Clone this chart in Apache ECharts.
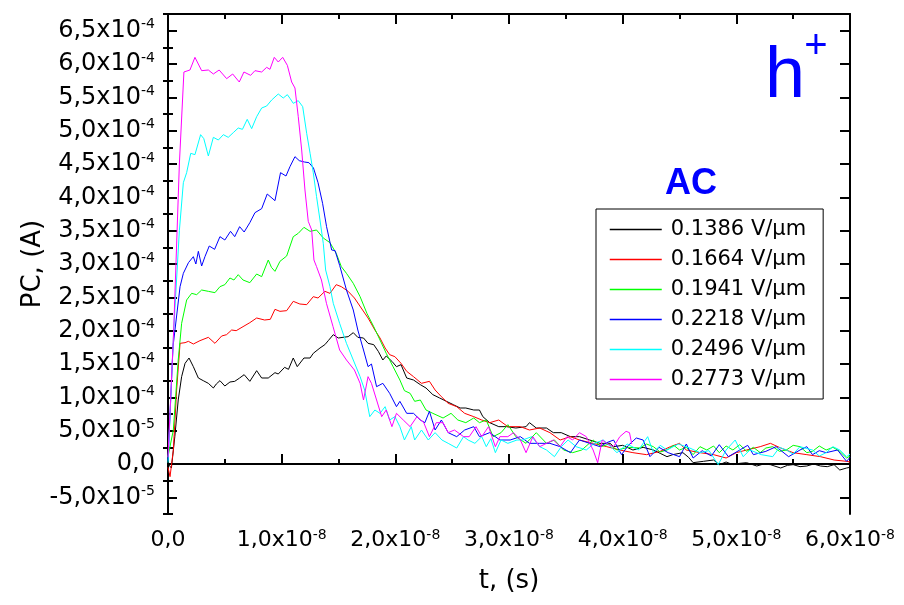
<!DOCTYPE html>
<html>
<head>
<meta charset="utf-8">
<script src="https://cdn.jsdelivr.net/npm/echarts@6/dist/echarts.min.js"></script>
<style>
html,body{margin:0;padding:0;background:#fff;}
#chart{width:904px;height:605px;}
</style>
</head>
<body>
<div id="chart"></div>
<script>
// time in ns (1 ns = 1e-9 s), current in units of 1e-4 A
const seriesNames = ['0.1386 V/\u00b5m','0.1664 V/\u00b5m','0.1941 V/\u00b5m','0.2218 V/\u00b5m','0.2496 V/\u00b5m','0.2773 V/\u00b5m'];
const seriesColors = ['#000000','#ff0000','#00ff00','#0000ff','#00ffff','#ff00ff'];

const e1386 = [[0,0.0],[0.3,-0.06],[0.6,0.41],[0.9,0.96],[1.2,1.31],[1.5,1.51],[1.85,1.59],[2.23,1.46],[2.67,1.29],[3.1,1.25],[3.55,1.21],[3.99,1.14],[4.25,1.2],[4.57,1.25],[5.0,1.17],[5.45,1.23],[5.87,1.24],[6.3,1.29],[6.7,1.34],[7.2,1.24],[7.8,1.40],[8.24,1.29],[8.82,1.29],[9.41,1.37],[9.7,1.35],[10.26,1.45],[10.6,1.42],[11.02,1.59],[11.37,1.46],[11.96,1.59],[12.5,1.59],[12.78,1.66],[13.37,1.74],[13.8,1.79],[14.1,1.85],[14.54,1.94],[14.98,1.89],[15.4,1.90],[15.85,1.91],[16.3,1.97],[16.7,1.90],[17.2,1.89],[17.6,1.81],[18.1,1.79],[18.5,1.69],[18.9,1.56],[19.2,1.62],[19.7,1.54],[20.1,1.46],[20.5,1.49],[21.0,1.29],[21.6,1.26],[22.2,1.19],[22.7,1.14],[23.3,1.04],[23.9,0.99],[24.5,0.94],[25.1,0.89],[25.7,0.84],[26.2,0.84],[26.9,0.81],[27.4,0.81],[27.7,0.71],[28.3,0.62],[29.1,0.56],[29.8,0.56],[30.6,0.54],[31.5,0.56],[31.8,0.62],[32.4,0.54],[33.3,0.54],[33.9,0.47],[34.6,0.47],[35.4,0.41],[36.2,0.41],[37.1,0.36],[38.0,0.31],[38.9,0.31],[39.2,0.26],[40.0,0.28],[40.9,0.21],[41.8,0.25],[42.7,0.21],[43.3,0.16],[43.9,0.11],[44.4,0.14],[45.3,0.17],[45.8,0.1],[46.2,0.02],[47.1,0.04],[48.0,0.06],[48.5,-0.01],[49.1,0.03],[49.7,-0.01],[50.3,0.01],[50.9,0.02],[51.8,-0.03],[52.4,0.0],[53.0,-0.01],[53.9,-0.06],[54.5,-0.02],[55.0,-0.01],[55.6,-0.04],[56.2,-0.03],[56.8,0.0],[57.4,-0.03],[58.0,-0.04],[58.6,-0.01],[59.1,-0.09],[59.7,-0.06],[60,-0.05]];

const e1664 = [[0,-0.05],[0.18,-0.19],[0.47,0.21],[0.76,1.11],[1.06,1.81],[1.5,1.82],[1.79,1.84],[2.23,1.80],[2.81,1.85],[3.55,1.90],[4.13,1.81],[4.72,1.92],[5.15,1.94],[5.6,2.01],[6.0,2.0],[6.6,2.06],[7.2,2.12],[7.8,2.19],[8.5,2.16],[9.0,2.17],[9.41,2.32],[9.85,2.29],[10.44,2.30],[11.02,2.44],[11.6,2.40],[12.2,2.39],[12.78,2.51],[13.2,2.49],[13.8,2.59],[14.25,2.56],[14.8,2.69],[15.25,2.66],[15.85,2.59],[16.4,2.49],[17.0,2.34],[17.6,2.19],[18.2,2.01],[18.65,1.89],[19.1,1.74],[19.5,1.64],[19.96,1.61],[20.5,1.51],[21.0,1.39],[21.6,1.31],[22.3,1.21],[23.0,1.24],[23.5,1.11],[24.05,1.01],[24.65,0.91],[25.4,0.86],[26.1,0.76],[26.9,0.71],[27.6,0.66],[28.3,0.62],[29.1,0.66],[29.9,0.56],[31.0,0.56],[31.8,0.51],[32.7,0.54],[33.6,0.47],[34.5,0.36],[35.4,0.41],[36.2,0.36],[37.4,0.31],[38.6,0.26],[39.75,0.21],[40.9,0.17],[42.1,0.14],[43.3,0.19],[44.2,0.26],[45.0,0.31],[45.6,0.21],[46.8,0.17],[48.0,0.14],[49.1,0.09],[50.0,0.17],[50.9,0.21],[52.1,0.26],[53.0,0.31],[53.9,0.24],[55.0,0.17],[56.2,0.14],[57.4,0.11],[58.6,0.06],[59.7,0.04],[60,0.03]];

const e1941 = [[0,0.11],[0.47,0.51],[0.9,1.56],[1.2,2.11],[1.64,2.46],[2.08,2.56],[2.52,2.54],[2.96,2.61],[3.55,2.59],[4.13,2.57],[4.57,2.66],[5.0,2.69],[5.45,2.79],[5.8,2.76],[6.18,2.84],[6.6,2.76],[7.2,2.72],[7.8,2.85],[8.24,2.81],[8.82,3.06],[9.1,2.95],[9.41,2.89],[9.85,3.04],[10.44,3.12],[11.02,3.41],[11.46,3.46],[11.96,3.55],[12.5,3.49],[13.07,3.51],[13.66,3.39],[14.25,3.32],[14.8,3.16],[15.25,2.96],[15.7,2.86],[16.3,2.71],[16.9,2.51],[17.5,2.26],[18.1,2.06],[18.65,1.86],[19.2,1.66],[19.8,1.46],[20.4,1.26],[20.8,1.1],[21.3,1.06],[21.7,0.94],[22.2,0.96],[22.7,0.81],[23.3,0.76],[24.2,0.69],[24.9,0.76],[25.5,0.66],[26.2,0.62],[26.9,0.69],[27.4,0.62],[28.0,0.66],[28.6,0.41],[29.3,0.47],[29.9,0.59],[30.6,0.41],[31.5,0.31],[32.4,0.47],[33.3,0.31],[34.0,0.36],[34.8,0.21],[35.6,0.17],[36.4,0.21],[37.4,0.36],[38.1,0.26],[38.8,0.3],[39.5,0.21],[40.5,0.25],[41.5,0.24],[42.1,0.3],[42.7,0.26],[43.3,0.18],[43.9,0.21],[44.5,0.28],[45.0,0.21],[45.6,0.25],[46.2,0.14],[46.8,0.26],[47.4,0.21],[48.0,0.27],[48.5,0.17],[49.1,0.27],[49.7,0.21],[50.3,0.29],[50.9,0.19],[51.5,0.25],[52.1,0.17],[52.6,0.24],[53.2,0.26],[53.8,0.19],[54.4,0.21],[55.0,0.28],[55.6,0.26],[56.2,0.17],[56.7,0.19],[57.3,0.27],[57.9,0.21],[58.5,0.25],[59.1,0.19],[59.7,0.09],[60,0.12]];

const e2218 = [[0,0.05],[0.44,1.76],[1.06,2.66],[1.35,2.86],[1.8,3.02],[2.23,3.11],[2.45,3.0],[2.67,3.19],[2.96,2.97],[3.25,3.11],[3.63,3.27],[4.1,3.22],[4.57,3.41],[5.0,3.36],[5.5,3.49],[5.87,3.41],[6.3,3.56],[6.7,3.48],[7.2,3.62],[7.65,3.77],[8.24,3.83],[8.73,4.05],[9.41,3.95],[9.9,4.37],[10.38,4.32],[10.73,4.46],[11.17,4.61],[11.55,4.55],[12.0,4.53],[12.4,4.52],[12.8,4.44],[13.2,4.22],[13.6,3.91],[13.95,3.56],[14.4,3.21],[14.7,3.2],[15.1,2.98],[15.7,2.61],[16.3,2.31],[16.7,2.01],[17.2,1.71],[17.6,1.46],[17.9,1.5],[18.35,1.16],[18.9,1.21],[19.5,1.06],[20.1,0.86],[20.4,0.94],[21.0,0.76],[21.6,0.76],[22.2,0.66],[22.6,0.62],[23.0,0.79],[23.5,0.51],[24.05,0.66],[24.65,0.47],[25.4,0.41],[26.1,0.51],[26.9,0.56],[27.4,0.41],[28.3,0.47],[29.2,0.36],[30.1,0.36],[31.0,0.41],[31.8,0.31],[32.7,0.31],[33.6,0.31],[34.5,0.26],[35.4,0.17],[36.2,0.36],[37.1,0.31],[38.0,0.26],[38.6,0.32],[39.2,0.36],[39.9,0.14],[40.5,0.28],[41.2,0.39],[41.8,0.36],[42.4,0.11],[43.2,0.25],[44.0,0.17],[45.0,0.11],[45.6,0.3],[46.2,0.09],[47.0,0.2],[47.8,0.12],[48.5,0.29],[49.3,0.11],[50.3,0.21],[51.0,0.28],[51.5,0.14],[52.6,0.19],[53.5,0.26],[54.6,0.11],[55.6,0.21],[56.2,0.26],[56.7,0.14],[57.3,0.2],[57.9,0.17],[58.9,0.21],[59.7,0.04],[60,0.1]];

const e2496 = [[0,0.02],[0.5,2.0],[1.0,3.5],[1.35,4.22],[1.64,4.37],[2.0,4.66],[2.37,4.64],[2.87,4.94],[3.15,4.88],[3.55,4.62],[3.99,4.90],[4.43,4.86],[4.87,4.94],[5.3,4.9],[5.74,4.97],[6.18,5.04],[6.55,5.02],[6.97,5.17],[7.36,5.03],[7.8,5.21],[8.24,5.34],[8.68,5.37],[9.12,5.46],[9.7,5.55],[10.14,5.49],[10.5,5.54],[10.75,5.48],[11.02,5.41],[11.46,5.45],[11.85,5.36],[12.2,4.96],[12.5,4.66],[12.78,4.37],[13.07,4.01],[13.37,3.66],[13.66,3.31],[13.87,2.91],[14.25,2.66],[14.54,2.41],[15.1,2.11],[15.7,1.81],[16.3,1.56],[16.9,1.31],[17.3,1.11],[17.75,0.71],[18.2,0.81],[18.65,0.76],[19.1,0.86],[19.5,0.66],[19.96,0.71],[20.4,0.56],[20.8,0.36],[21.4,0.56],[21.7,0.36],[22.3,0.51],[22.9,0.36],[23.5,0.47],[24.1,0.36],[24.65,0.31],[25.4,0.24],[26.0,0.41],[26.4,0.36],[27.0,0.31],[27.6,0.41],[28.0,0.26],[28.4,0.38],[28.8,0.17],[29.3,0.36],[29.9,0.31],[30.7,0.36],[31.2,0.36],[32.0,0.41],[32.7,0.26],[33.3,0.21],[34.0,0.11],[34.6,0.26],[35.2,0.36],[35.9,0.26],[36.8,0.21],[37.5,0.31],[38.3,0.36],[39.0,0.25],[39.5,0.17],[40.4,0.3],[41.4,0.21],[42.2,0.41],[42.7,0.17],[43.3,0.28],[43.9,0.21],[44.9,0.3],[45.9,0.24],[46.8,0.17],[47.6,0.2],[48.4,-0.01],[49.1,0.21],[49.9,0.36],[50.6,0.11],[51.2,0.21],[52.2,0.14],[53.2,0.11],[53.8,0.25],[54.4,0.21],[55.0,0.15],[55.6,0.26],[56.7,0.21],[57.3,0.12],[57.9,0.17],[58.5,0.26],[59.1,0.21],[59.7,0.11],[60,0.15]];

const e2773 = [[0,0.1],[0.5,2.0],[1.0,4.5],[1.4,5.88],[1.93,5.91],[2.37,6.10],[2.96,5.90],[3.55,5.91],[3.99,5.85],[4.5,5.91],[5.16,5.78],[5.69,5.85],[6.27,5.73],[6.68,5.88],[7.27,5.83],[7.65,5.90],[8.24,5.88],[8.68,5.95],[8.97,5.92],[9.35,6.10],[9.7,6.03],[10.09,6.10],[10.5,5.98],[10.88,5.73],[11.17,5.64],[11.46,5.21],[11.76,4.71],[12.05,4.11],[12.34,3.64],[12.64,3.51],[12.84,3.06],[13.07,2.96],[13.5,2.76],[13.94,2.41],[14.52,2.06],[15.1,1.71],[15.7,1.56],[16.4,1.41],[16.9,1.21],[17.2,0.96],[17.6,1.31],[17.9,1.21],[18.35,0.96],[18.8,0.71],[19.2,0.81],[19.7,0.56],[20.1,0.76],[20.7,0.66],[21.3,0.56],[21.9,0.71],[22.5,0.62],[23.0,0.41],[23.6,0.62],[24.2,0.62],[24.65,0.47],[25.2,0.51],[26.0,0.41],[26.5,0.41],[27.1,0.56],[27.6,0.41],[28.2,0.56],[28.8,0.26],[29.2,0.41],[29.9,0.41],[30.4,0.47],[31.0,0.36],[31.5,0.17],[32.1,0.41],[32.7,0.26],[33.3,0.31],[33.9,0.36],[34.5,0.26],[35.1,0.41],[35.6,0.36],[36.2,0.47],[36.8,0.41],[37.4,0.21],[37.8,0.02],[38.2,0.36],[38.7,0.3],[39.2,0.26],[39.75,0.41],[40.3,0.49],[40.6,0.47],[40.8,0.3]];

const seriesData = [e1386, e1664, e1941, e2218, e2496, e2773];

// tick values (axis units)
const yMajorTicks = [-0.5,0,0.5,1,1.5,2,2.5,3,3.5,4,4.5,5,5.5,6,6.5];
const yMinorTicks = [-0.75,-0.25,0.25,0.75,1.25,1.75,2.25,2.75,3.25,3.75,4.25,4.75,5.25,5.75,6.25,6.75];

const FONT = 'DejaVu Sans';

function fmtY(v){
  if (Math.abs(v) < 1e-9) return '0,0';
  if (Math.abs(v) < 1) return (v*10).toFixed(1).replace('.', ',') + 'x10{s|-5}';
  return v.toFixed(1).replace('.', ',') + 'x10{s|-4}';
}
function fmtX(v){
  if (Math.abs(v) < 1e-9) return '0,0';
  return (v/10).toFixed(1).replace('.', ',') + 'x10{s|-8}';
}
const supRich = { s: { fontSize: 14, fontFamily: FONT, color: '#000', verticalAlign: 'top', lineHeight: 14 } };

const chart = echarts.init(document.getElementById('chart'), null, {renderer:'canvas'});

const yBase = { type:'value', min:-0.75, max:6.75, splitLine:{show:false} };
const xBase = { type:'value', min:0, max:60, interval:10, splitLine:{show:false} };

const option = {
  animation:false,
  backgroundColor:'#ffffff',
  grid:{ left:168, right:54, top:14, bottom:91, containLabel:false },
  xAxis:[
    Object.assign({}, xBase, {
      position:'bottom',
      name:'t, (s)', nameLocation:'middle', nameGap:54,
      nameTextStyle:{ fontFamily:FONT, fontSize:26, color:'#000' },
      axisLine:{ show:true, lineStyle:{ color:'#000', width:2 } },
      axisTick:{ show:true, inside:true, length:10, lineStyle:{ color:'#000', width:2 } },
      minorTick:{ show:true, splitNumber:2, length:5, lineStyle:{ color:'#000', width:2 } },
      axisLabel:{ show:true, margin:14, fontFamily:FONT, fontSize:22, color:'#000', lineHeight:24, formatter:fmtX, rich:supRich, showMinLabel:true, showMaxLabel:true }
    }),
    Object.assign({}, xBase, {
      position:'top',
      axisLine:{ show:true, onZero:false, lineStyle:{ color:'#000', width:2 } },
      axisTick:{ show:true, inside:true, length:10, lineStyle:{ color:'#000', width:2 } },
      minorTick:{ show:true, splitNumber:2, length:5, lineStyle:{ color:'#000', width:2 } },
      axisLabel:{ show:false }
    })
  ],
  yAxis:[
    Object.assign({}, yBase, {
      position:'left',
      name:'PC, (A)', nameLocation:'middle', nameGap:122, nameMoveOverlap:false,
      nameTextStyle:{ fontFamily:FONT, fontSize:26, color:'#000' },
      axisLine:{ show:true, onZero:false, lineStyle:{ color:'#000', width:2 } },
      axisTick:{ show:true, inside:true, length:9, customValues:yMajorTicks, lineStyle:{ color:'#000', width:2 } },
      axisLabel:{ show:true, margin:13, fontFamily:FONT, fontSize:24, color:'#000', lineHeight:26, formatter:fmtY, rich:supRich, customValues:yMajorTicks }
    }),
    Object.assign({}, yBase, {
      position:'left',
      axisLine:{ show:false },
      axisTick:{ show:true, inside:true, length:5, customValues:yMinorTicks, lineStyle:{ color:'#000', width:2 } },
      axisLabel:{ show:false }
    }),
    Object.assign({}, yBase, {
      position:'right',
      axisLine:{ show:true, onZero:false, lineStyle:{ color:'#000', width:2 } },
      axisTick:{ show:true, inside:true, length:10, customValues:yMajorTicks, lineStyle:{ color:'#000', width:2 } },
      axisLabel:{ show:false }
    }),
    Object.assign({}, yBase, {
      position:'right',
      axisLine:{ show:false },
      axisTick:{ show:true, inside:true, length:5, customValues:yMinorTicks, lineStyle:{ color:'#000', width:2 } },
      axisLabel:{ show:false }
    })
  ],
  legend:{
    orient:'vertical', left:596, top:209,
    padding:[10,17,9,13],
    itemWidth:52, itemHeight:20, itemGap:9,
    borderColor:'#000', borderWidth:1, borderRadius:0,
    backgroundColor:'#ffffff',
    selectedMode:false,
    itemStyle:{ opacity:0 },
    lineStyle:{ width:1.5 },
    textStyle:{ fontFamily:FONT, fontSize:21, lineHeight:20, color:'#000', padding:[0,0,0,4] },
    data: seriesNames
  },
  graphic:[
    { type:'text', z:100, style:{ text:'h', x:765, y:77, fontFamily:'Liberation Sans', fontSize:72, fill:'#0000ff', align:'left', verticalAlign:'middle' } },
    { type:'text', z:100, style:{ text:'+', x:816, y:47, fontFamily:'Liberation Sans', fontSize:40, fill:'#0000ff', align:'center', verticalAlign:'middle' } },
    { type:'text', z:100, style:{ text:'AC', x:691, y:184, fontFamily:'Liberation Sans', fontWeight:'bold', fontSize:36, fill:'#0000ff', align:'center', verticalAlign:'middle' } }
  ],
  series: seriesData.map((d, i) => ({
    name: seriesNames[i],
    type:'line',
    xAxisIndex:0, yAxisIndex:0,
    data: d,
    showSymbol:false, symbol:'none',
    lineStyle:{ color: seriesColors[i], width:1 },
    itemStyle:{ color: seriesColors[i] },
    clip:true
  }))
};
chart.setOption(option);
</script>
</body>
</html>
